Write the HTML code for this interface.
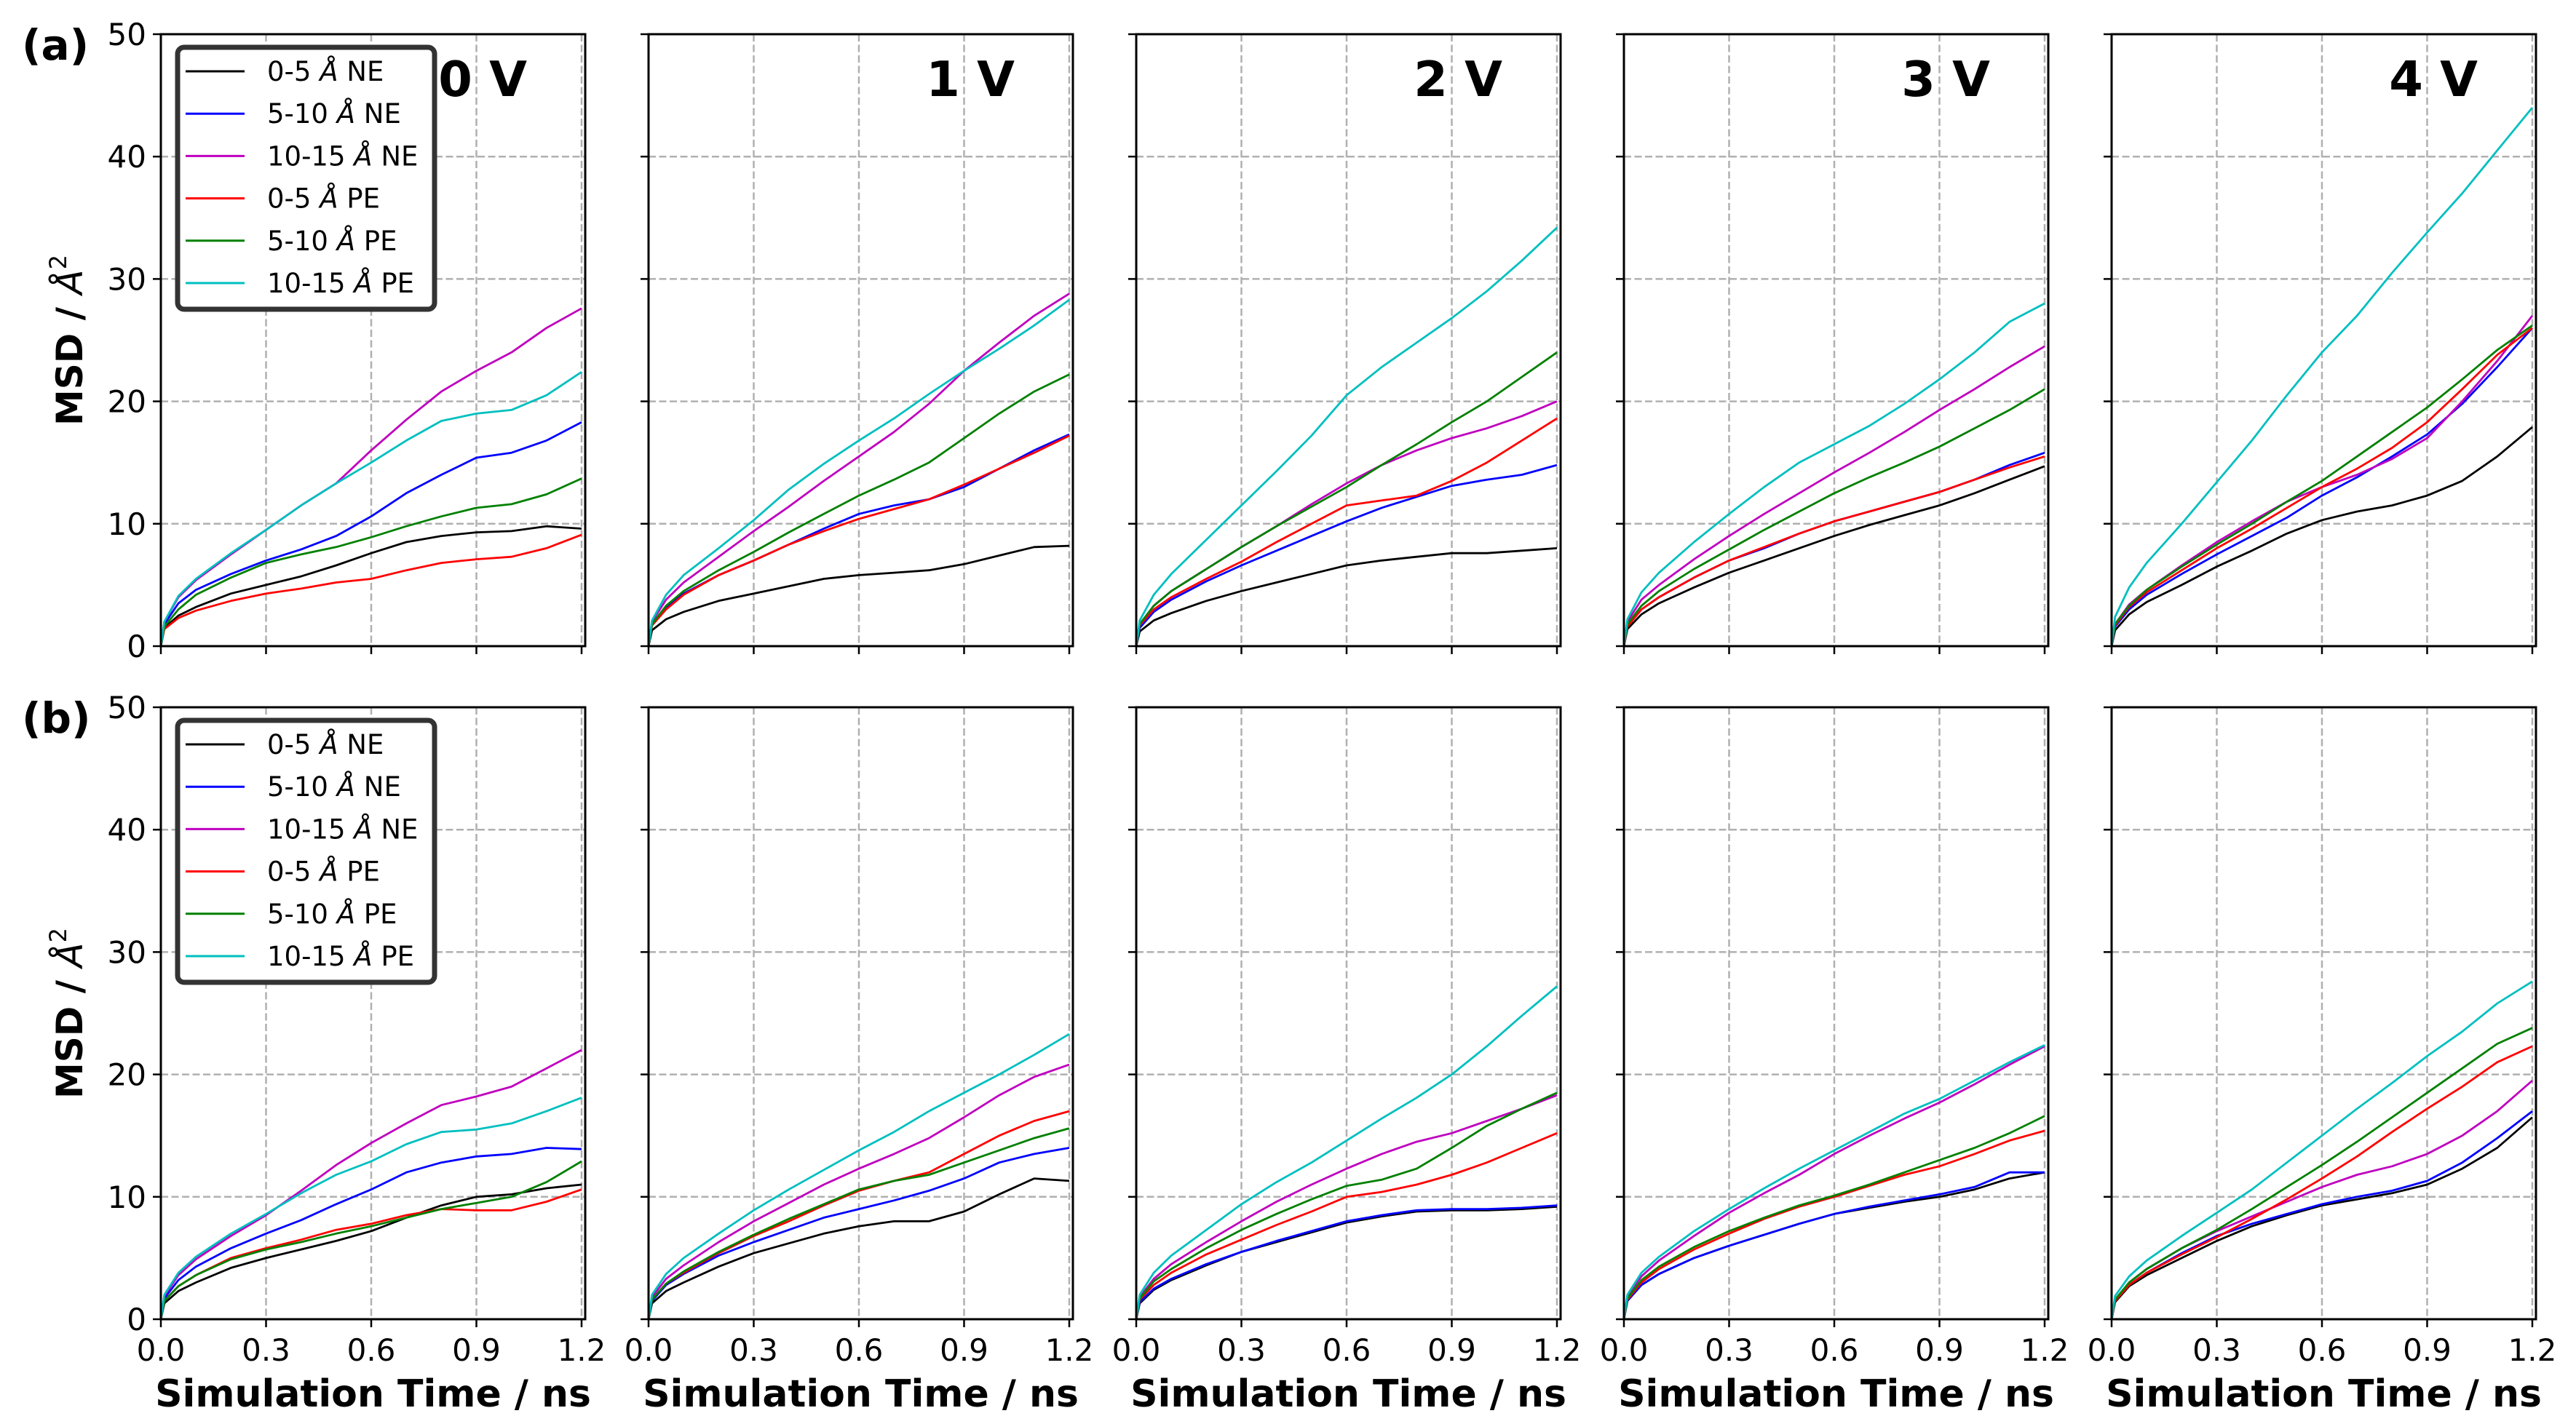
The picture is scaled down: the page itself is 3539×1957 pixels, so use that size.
<!DOCTYPE html>
<html><head><meta charset="utf-8">
<style>
html,body{margin:0;padding:0;background:#fff;}
svg{display:block;font-family:"DejaVu Sans","Liberation Sans",sans-serif;}
</style></head>
<body>
<svg id="fig" width="3539" height="1957" viewBox="0 0 3539 1957" xmlns="http://www.w3.org/2000/svg"></svg>
<script>
const times = [0,0.01,0.05,0.1,0.2,0.3,0.4,0.5,0.6,0.7,0.8,0.9,1.0,1.1,1.2];
const seriesNames = ["0-5 Å NE","5-10 Å NE","10-15 Å NE","0-5 Å PE","5-10 Å PE","10-15 Å PE"];
const seriesColors = ["#000000","#0000ff","#bf00bf","#ff0000","#008000","#00bfbf"];
const voltages = ["0 V","1 V","2 V","3 V","4 V"];
const xTicks = [0,0.3,0.6,0.9,1.2];
const xTickLabels = ["0.0","0.3","0.6","0.9","1.2"];
const yTicks = [0,10,20,30,40,50];
const yTickLabels = ["0","10","20","30","40","50"];
// row (a)
const a0 = [
[0,1.5,2.5,3.2,4.3,5.0,5.7,6.6,7.6,8.5,9.0,9.3,9.4,9.8,9.6],
[0,1.8,3.5,4.6,5.9,7.0,7.9,9.0,10.6,12.5,14.0,15.4,15.8,16.8,18.3],
[0,2.0,4.0,5.4,7.5,9.5,11.5,13.3,16.0,18.5,20.8,22.5,24.0,26.0,27.6],
[0,1.4,2.3,2.9,3.7,4.3,4.7,5.2,5.5,6.2,6.8,7.1,7.3,8.0,9.1],
[0,1.6,3.0,4.2,5.6,6.8,7.5,8.1,8.9,9.8,10.6,11.3,11.6,12.4,13.7],
[0,2.0,4.1,5.5,7.6,9.5,11.5,13.3,15.0,16.8,18.4,19.0,19.3,20.5,22.4]];
const a1 = [
[0,1.3,2.2,2.8,3.7,4.3,4.9,5.5,5.8,6.0,6.2,6.7,7.4,8.1,8.2],
[0,1.8,3.2,4.3,5.8,7.0,8.3,9.6,10.8,11.5,12.0,13.0,14.5,16.0,17.3],
[0,2.0,3.8,5.2,7.3,9.4,11.4,13.5,15.5,17.5,19.8,22.5,24.8,27.0,28.8],
[0,1.7,3.0,4.2,5.8,7.0,8.3,9.4,10.4,11.2,12.0,13.2,14.5,15.8,17.2],
[0,1.8,3.3,4.5,6.2,7.7,9.3,10.8,12.3,13.6,15.0,17.0,19.0,20.8,22.2],
[0,2.1,4.2,5.8,8.0,10.3,12.8,14.9,16.8,18.6,20.6,22.5,24.3,26.2,28.3]];
const a2 = [
[0,1.2,2.1,2.7,3.7,4.5,5.2,5.9,6.6,7.0,7.3,7.6,7.6,7.8,8.0],
[0,1.5,2.8,3.8,5.3,6.6,7.8,9.0,10.2,11.3,12.2,13.1,13.6,14.0,14.8],
[0,1.8,3.3,4.5,6.3,8.1,9.8,11.6,13.3,14.8,16.0,17.0,17.8,18.8,20.0],
[0,1.7,3.0,4.0,5.5,6.9,8.5,10.0,11.5,11.9,12.3,13.5,15.0,16.8,18.6],
[0,1.8,3.3,4.5,6.3,8.1,9.8,11.4,13.0,14.8,16.5,18.3,20.0,22.0,24.0],
[0,2.1,4.2,5.9,8.7,11.5,14.3,17.2,20.5,22.8,24.8,26.8,29.0,31.5,34.2]];
const a3 = [
[0,1.4,2.6,3.5,4.8,6.0,7.0,8.0,9.0,9.9,10.7,11.5,12.5,13.6,14.7],
[0,1.6,3.0,4.0,5.6,7.0,8.0,9.2,10.2,11.0,11.8,12.6,13.6,14.8,15.8],
[0,2.0,3.8,5.0,7.1,9.0,10.8,12.5,14.2,15.8,17.5,19.3,21.0,22.8,24.5],
[0,1.6,3.0,4.0,5.6,7.0,8.1,9.2,10.2,11.0,11.8,12.6,13.6,14.6,15.5],
[0,1.8,3.3,4.5,6.3,7.9,9.5,11.0,12.5,13.8,15.0,16.3,17.8,19.3,21.0],
[0,2.2,4.4,6.0,8.5,10.8,13.0,15.0,16.5,18.0,19.8,21.8,24.0,26.5,28.0]];
const a4 = [
[0,1.3,2.6,3.6,5.0,6.5,7.8,9.2,10.3,11.0,11.5,12.3,13.5,15.5,17.9],
[0,1.6,3.0,4.2,5.9,7.5,9.0,10.5,12.3,13.8,15.5,17.3,19.8,22.8,26.0],
[0,1.8,3.4,4.6,6.6,8.5,10.2,11.8,13.0,14.0,15.3,17.0,20.0,23.3,27.0],
[0,1.7,3.2,4.4,6.2,8.0,9.6,11.3,13.0,14.5,16.2,18.3,21.0,23.8,26.0],
[0,1.8,3.3,4.6,6.5,8.3,10.0,11.8,13.5,15.5,17.5,19.5,21.8,24.2,26.2],
[0,2.4,4.8,6.8,10.0,13.4,16.8,20.5,24.0,27.0,30.5,33.8,37.0,40.5,44.0]];
// row (b)
const b0 = [
[0,1.3,2.3,3.0,4.2,5.0,5.7,6.4,7.2,8.3,9.3,10.0,10.2,10.7,11.0],
[0,1.7,3.2,4.3,5.8,7.0,8.1,9.4,10.6,12.0,12.8,13.3,13.5,14.0,13.9],
[0,1.9,3.6,4.9,6.8,8.5,10.5,12.6,14.4,16.0,17.5,18.2,19.0,20.5,22.0],
[0,1.5,2.7,3.6,5.0,5.8,6.5,7.3,7.8,8.5,9.0,8.9,8.9,9.6,10.6],
[0,1.5,2.7,3.6,4.9,5.7,6.3,7.0,7.6,8.3,9.0,9.5,10.0,11.2,12.9],
[0,2.0,3.8,5.1,7.0,8.6,10.3,11.8,12.9,14.3,15.3,15.5,16.0,17.0,18.1]];
const b1 = [
[0,1.3,2.3,3.0,4.3,5.4,6.2,7.0,7.6,8.0,8.0,8.8,10.2,11.5,11.3],
[0,1.5,2.8,3.7,5.2,6.3,7.3,8.3,9.0,9.7,10.5,11.5,12.8,13.5,14.0],
[0,1.8,3.3,4.4,6.3,8.0,9.5,11.0,12.3,13.5,14.8,16.5,18.3,19.8,20.8],
[0,1.6,2.9,3.8,5.4,6.8,8.0,9.3,10.5,11.3,12.0,13.5,15.0,16.2,17.0],
[0,1.6,2.9,3.9,5.5,6.9,8.2,9.4,10.6,11.3,11.8,12.8,13.8,14.8,15.6],
[0,2.0,3.7,5.0,7.0,8.9,10.6,12.2,13.8,15.3,17.0,18.5,20.0,21.6,23.3]];
const b2 = [
[0,1.3,2.4,3.2,4.4,5.5,6.3,7.1,7.9,8.4,8.8,8.9,8.9,9.0,9.2],
[0,1.4,2.5,3.3,4.5,5.5,6.4,7.2,8.0,8.5,8.9,9.0,9.0,9.1,9.3],
[0,1.8,3.3,4.5,6.3,8.0,9.6,11.0,12.3,13.5,14.5,15.2,16.2,17.2,18.3],
[0,1.6,2.8,3.8,5.3,6.5,7.7,8.8,10.0,10.4,11.0,11.8,12.8,14.0,15.2],
[0,1.7,3.1,4.1,5.8,7.3,8.6,9.8,10.9,11.4,12.3,14.0,15.8,17.2,18.5],
[0,2.0,3.8,5.2,7.3,9.4,11.2,12.8,14.6,16.4,18.1,20.0,22.3,24.8,27.2]];
const b3 = [
[0,1.5,2.8,3.7,5.0,6.0,6.9,7.8,8.6,9.1,9.6,10.0,10.6,11.5,12.0],
[0,1.5,2.8,3.7,5.0,6.0,6.9,7.8,8.6,9.2,9.7,10.2,10.8,12.0,12.0],
[0,1.9,3.5,4.8,6.8,8.7,10.3,11.8,13.5,15.0,16.4,17.7,19.2,20.8,22.3],
[0,1.6,3.0,4.1,5.7,7.0,8.2,9.2,10.0,10.9,11.8,12.5,13.5,14.6,15.4],
[0,1.7,3.2,4.3,5.9,7.2,8.3,9.3,10.1,11.0,12.0,13.0,14.0,15.2,16.6],
[0,2.0,3.8,5.1,7.2,9.0,10.7,12.3,13.8,15.3,16.8,18.0,19.5,21.0,22.4]];
const b4 = [
[0,1.4,2.7,3.6,5.0,6.4,7.6,8.5,9.3,9.8,10.3,11.0,12.3,14.0,16.5],
[0,1.5,2.8,3.8,5.4,6.8,7.8,8.6,9.4,10.0,10.5,11.3,12.8,14.8,17.0],
[0,1.6,3.0,4.1,5.8,7.2,8.4,9.6,10.8,11.8,12.5,13.5,15.0,17.0,19.5],
[0,1.5,2.8,3.8,5.3,6.7,8.2,9.8,11.5,13.3,15.3,17.2,19.0,21.0,22.3],
[0,1.6,3.0,4.1,5.8,7.3,9.0,10.8,12.6,14.5,16.5,18.5,20.5,22.5,23.8],
[0,1.9,3.5,4.8,6.8,8.7,10.6,12.8,15.0,17.2,19.3,21.5,23.5,25.8,27.6]];

const rowsData = [[a0,a1,a2,a3,a4],[b0,b1,b2,b3,b4]];
const rowLabels = ["(a)","(b)"];

const NS = "http://www.w3.org/2000/svg";
const svg = document.getElementById("fig");
function mk(tag, attrs, parent){
  const e = document.createElementNS(NS, tag);
  for (const k in attrs) e.setAttribute(k, attrs[k]);
  (parent||svg).appendChild(e);
  return e;
}
const L0 = 221, PW = 583, PSTEP = 670;
const rowTop = [47, 972], PH = 841;
const XMAX = 1.2104, YMAX = 50;

rowsData.forEach((row, r) => {
  const top = rowTop[r], bot = top + PH;
  const rl = mk("text", {x:30, y:top+35, "font-size":58, "font-weight":"bold"});
  rl.textContent = rowLabels[r];
  
  
  const yl = mk("text", {x:0, y:0, "font-size":50, "font-weight":"bold", "text-anchor":"middle", transform:`translate(113,${top+PH/2}) rotate(-90)`});
  yl.innerHTML = 'MSD / <tspan font-style="italic" font-weight="normal">Å</tspan><tspan font-size="32" dy="-22" font-weight="normal">2</tspan>';
  
  

  row.forEach((panel, p) => {
    const left = L0 + p*PSTEP, right = left + PW;
    const xs = t => left + t / XMAX * PW;
    const ys = v => bot - v / YMAX * PH;
    const g = mk("g", {});
    
    
    // grid
    xTicks.forEach((t,i) => {
      const gl = mk("line", {x1:xs(t), x2:xs(t), y1:top, y2:bot, stroke:"#b0b0b0", "stroke-width":2.5, "stroke-dasharray":"10,4.5"}, g);
      
      
      const tk = mk("line", {x1:xs(t), x2:xs(t), y1:bot, y2:bot+11, stroke:"#000", "stroke-width":2.5}, g);
      
      
      if (r===1){
        const tl = mk("text", {x:xs(t), y:bot+57, "font-size":42, "text-anchor":"middle"}, g);
        tl.textContent = xTickLabels[i];
        
        
      }
    });
    yTicks.forEach((v,i) => {
      const gl = mk("line", {x1:left, x2:right, y1:ys(v), y2:ys(v), stroke:"#b0b0b0", "stroke-width":2.5, "stroke-dasharray":"10,4.5"}, g);
      
      
      const tk = mk("line", {x1:left-11, x2:left, y1:ys(v), y2:ys(v), stroke:"#000", "stroke-width":2.5}, g);
      
      
      if (p===0){
        const tl = mk("text", {x:left-20, y:ys(v)+15, "font-size":42, "text-anchor":"end"}, g);
        tl.textContent = yTickLabels[i];
        
        
      }
    });
    // series
    panel.forEach((vals, s) => {
      const d = vals.map((v,i) => (i?"L":"M") + xs(times[i]).toFixed(1) + "," + ys(v).toFixed(1)).join(" ");
      const pl = mk("path", {d:d, fill:"none", stroke:seriesColors[s], "stroke-width":2.8, "stroke-linejoin":"round"}, g);
      
      
    });
    // frame
    const fr = mk("rect", {x:left, y:top, width:PW, height:PH, fill:"none", stroke:"#000", "stroke-width":3}, g);
    
    
    if (r===0){
      const vt = mk("text", {x:right-80, y:top+85, "font-size":67, "font-weight":"bold", "text-anchor":"end"}, g);
      vt.textContent = voltages[p];
      
      
    }
    if (r===1){
      const xl = mk("text", {x:(left+right)/2, y:1933, "font-size":52, "font-weight":"bold", "text-anchor":"middle"}, g);
      xl.textContent = "Simulation Time / ns";
      
      
    }
    if (p===0){
      const lg = mk("g", {}, g);
      
      
      const ly = top + 18;
      const box = mk("rect", {x:244, y:ly, width:353, height:360, rx:9, fill:"#fff", stroke:"#333", "stroke-width":7}, lg);
      
      
      seriesNames.forEach((nm, s) => {
        const cy = ly + 33 + s*58.2;
        const ln = mk("line", {x1:255, x2:336, y1:cy, y2:cy, stroke:seriesColors[s], "stroke-width":3}, lg);
        
        
        const tx = mk("text", {x:367, y:cy+13, "font-size":37}, lg);
        const parts = nm.split("Å");
        tx.innerHTML = parts[0] + '<tspan font-style="italic">Å</tspan>' + parts[1];
        
        
      });
    }
  });
});
</script>
</body></html>
